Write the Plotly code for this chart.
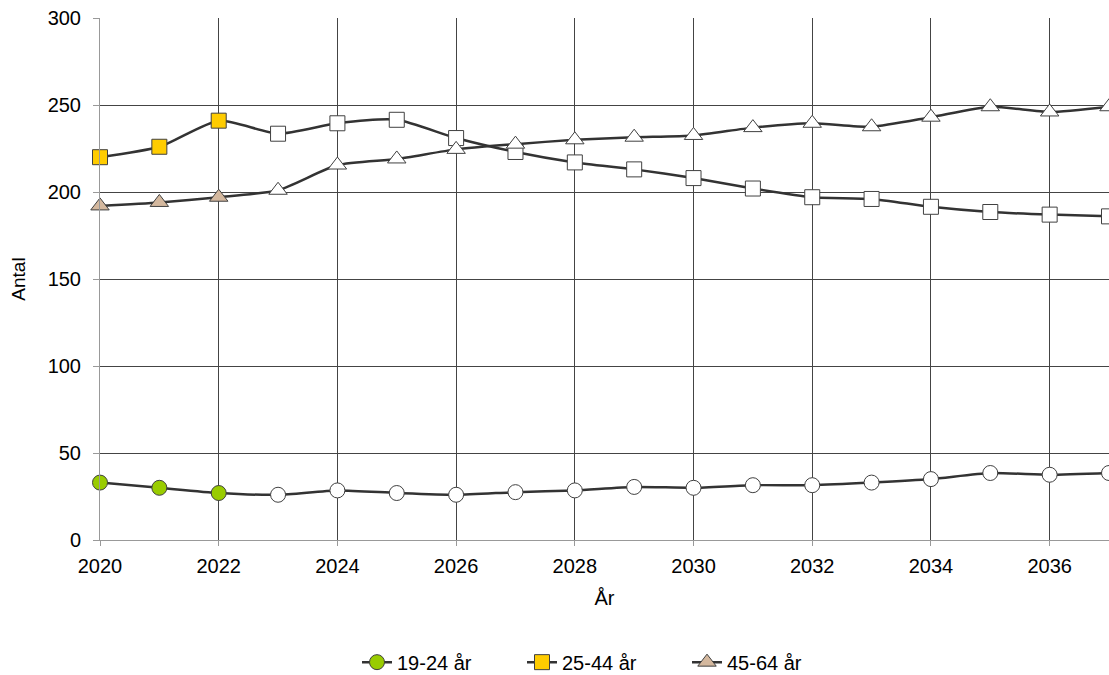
import plotly.graph_objects as go

years = list(range(2020, 2038))
v_19_24 = [33, 30, 27, 26, 28.5, 27, 26, 27.5, 28.5, 30.5, 30, 31.5, 31.5, 33, 35, 38.5, 37.5, 38.5]
v_25_44 = [220, 226, 241, 233.5, 239.5, 241.5, 231, 223, 217, 213, 208, 202, 197, 196, 191.5, 188.5, 187, 186]
v_45_64 = [192, 194, 197, 201, 215.5, 219, 224.5, 227.5, 230, 231.5, 232.5, 237, 239.5, 237.5, 243, 249, 246, 249]
names = ["19-24 år", "25-44 år", "45-64 år"]
fills = ["#99CC00", "#FFCC00", "#D4B89E"]
n_colored = 3

fig = go.Figure()
for name, vals, fc, sym in zip(names, [v_19_24, v_25_44, v_45_64], fills,
                                ["circle", "square", "triangle-up"]):
    colors = [fc if i < n_colored else "#FFFFFF" for i in range(len(vals))]
    fig.add_trace(go.Scatter(
        x=years, y=vals, name=name, mode="lines+markers", cliponaxis=False,
        line=dict(color="#333333", width=2.5, shape="spline", smoothing=0.6),
        marker=dict(symbol=sym, size=15 if sym != "triangle-up" else 16,
                    color=colors, line=dict(color="#404040", width=1)),
    ))

fig.update_layout(
    width=1109, height=675,
    margin=dict(l=100, r=0, t=18, b=135, autoexpand=False),
    paper_bgcolor="white", plot_bgcolor="white",
    font=dict(family="Liberation Sans, Arial, sans-serif", size=20, color="#000"),
    showlegend=True,
    legend=dict(orientation="h", x=0.5, xanchor="center", y=-0.234, yanchor="middle",
                font=dict(size=20), entrywidth=120, traceorder="normal"),
)
fig.update_xaxes(
    range=[2020, 2037], dtick=2, tick0=2020,
    showgrid=True, gridcolor="#444444", gridwidth=1,
    showline=True, linecolor="#999999", linewidth=1,
    ticks="outside", ticklen=5, tickcolor="#999999", ticklabelstandoff=3,
    title=dict(text="År", font=dict(size=20), standoff=14),
    zeroline=False, mirror=False,
)
fig.update_yaxes(
    range=[0, 300], dtick=50,
    showgrid=True, gridcolor="#444444", gridwidth=1,
    showline=True, linecolor="#999999", linewidth=1,
    ticks="outside", ticklen=6, tickcolor="#999999", ticklabelstandoff=8,
    title=dict(text="Antal", font=dict(size=19), standoff=16),
    zeroline=False,
)

fig.write_html("out.html", config={"displayModeBar": False},
               post_script="document.body.style.margin='0';document.body.style.overflow='hidden';")
